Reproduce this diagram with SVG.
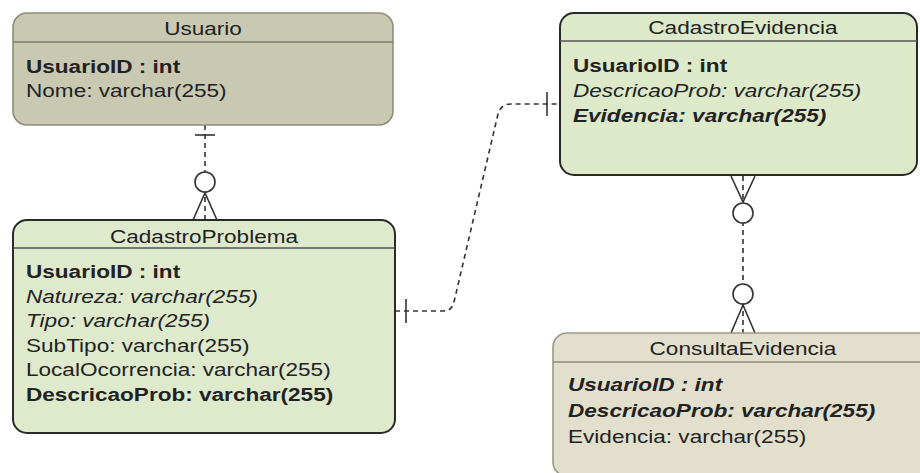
<svg xmlns="http://www.w3.org/2000/svg" width="920" height="473" viewBox="0 0 920 473">
  <style>
    .t { font-family: "Liberation Sans", Arial, sans-serif; font-size: 18.5px; fill: #222; }
    .b { font-weight: bold; }
    .i { font-style: italic; }
    .c { text-anchor: middle; }
    .rel { fill: none; stroke: #333; stroke-width: 1.6; stroke-dasharray: 5 4; }
    .sym { fill: none; stroke: #333; stroke-width: 1.6; }
    .ring { fill: #ffffff; stroke: #333; stroke-width: 1.6; }
    .hdr { stroke-width: 1.6; }
  </style>
  <rect width="920" height="473" fill="#ffffff"/>

  <!-- relationships -->
  <g id="connectors">
    <!-- Usuario 1 — 0..n CadastroProblema -->
    <path class="rel" d="M205,125 V220"/>
    <path class="sym" d="M195,135 H215"/>
    <circle class="ring" cx="205" cy="182" r="10"/>
    <path class="sym" d="M193,220 L205,193 L217,220"/>

    <!-- CadastroProblema 1 — 1 CadastroEvidencia -->
    <path class="rel" d="M395,311 L443,311 Q452,311 454,302 L498,114 Q501,104 511,104 L560,104"/>
    <path class="sym" d="M406,299 V323"/>
    <path class="sym" d="M547,92 V116"/>

    <!-- CadastroEvidencia 0..n — 0..n ConsultaEvidencia -->
    <path class="rel" d="M743,176 V333"/>
    <path class="sym" d="M731,176 L743,202 L755,176"/>
    <circle class="ring" cx="743" cy="213" r="10"/>
    <circle class="ring" cx="743" cy="294" r="10"/>
    <path class="sym" d="M731,333 L743,305 L755,333"/>
  </g>

  <!-- Usuario -->
  <g id="usuario">
    <rect x="13" y="13" width="380" height="112" rx="14" fill="#c9c9b2" stroke="#8e8e7e" stroke-width="1.6"/>
    <line class="hdr" x1="13" y1="42" x2="393" y2="42" stroke="#7a7a6a"/>
    <text class="t c" transform="translate(203 35) scale(1.22 1)">Usuario</text>
    <text class="t b" transform="translate(26 73) scale(1.22 1)">UsuarioID : int</text>
    <text class="t" transform="translate(26 97) scale(1.22 1)">Nome: varchar(255)</text>
  </g>

  <!-- CadastroProblema -->
  <g id="cadastroProblema">
    <rect x="13" y="220" width="382" height="213" rx="14" fill="#dfe9cc" stroke="#2a2a2a" stroke-width="2"/>
    <line class="hdr" x1="13" y1="248" x2="395" y2="248" stroke="#555"/>
    <text class="t c" transform="translate(204 243) scale(1.22 1)">CadastroProblema</text>
    <text class="t b" transform="translate(26 278) scale(1.22 1)">UsuarioID : int</text>
    <text class="t i" transform="translate(26 302.5) scale(1.22 1)">Natureza: varchar(255)</text>
    <text class="t i" transform="translate(26 327) scale(1.22 1)">Tipo: varchar(255)</text>
    <text class="t" transform="translate(26 351.5) scale(1.22 1)">SubTipo: varchar(255)</text>
    <text class="t" transform="translate(26 376) scale(1.22 1)">LocalOcorrencia: varchar(255)</text>
    <text class="t b" transform="translate(26 400.5) scale(1.22 1)">DescricaoProb: varchar(255)</text>
  </g>

  <!-- CadastroEvidencia -->
  <g id="cadastroEvidencia">
    <rect x="560" y="13" width="357" height="162" rx="14" fill="#dde9c9" stroke="#2a2a2a" stroke-width="2"/>
    <line class="hdr" x1="560" y1="41" x2="917" y2="41" stroke="#555"/>
    <text class="t c" transform="translate(743 34) scale(1.22 1)">CadastroEvidencia</text>
    <text class="t b" transform="translate(573 72) scale(1.22 1)">UsuarioID : int</text>
    <text class="t i" transform="translate(573 97) scale(1.22 1)">DescricaoProb: varchar(255)</text>
    <text class="t b i" transform="translate(573 122) scale(1.22 1)">Evidencia: varchar(255)</text>
  </g>

  <!-- ConsultaEvidencia -->
  <g id="consultaEvidencia">
    <rect x="553" y="333" width="380" height="143" rx="14" fill="#e2e0cc" stroke="#9a9a88" stroke-width="1.6"/>
    <line class="hdr" x1="553" y1="362" x2="920" y2="362" stroke="#8a8a78"/>
    <text class="t c" transform="translate(743 355) scale(1.22 1)">ConsultaEvidencia</text>
    <text class="t b i" transform="translate(568 391) scale(1.22 1)">UsuarioID : int</text>
    <text class="t b i" transform="translate(568 417) scale(1.22 1)">DescricaoProb: varchar(255)</text>
    <text class="t" transform="translate(568 443) scale(1.22 1)">Evidencia: varchar(255)</text>
  </g>
</svg>
